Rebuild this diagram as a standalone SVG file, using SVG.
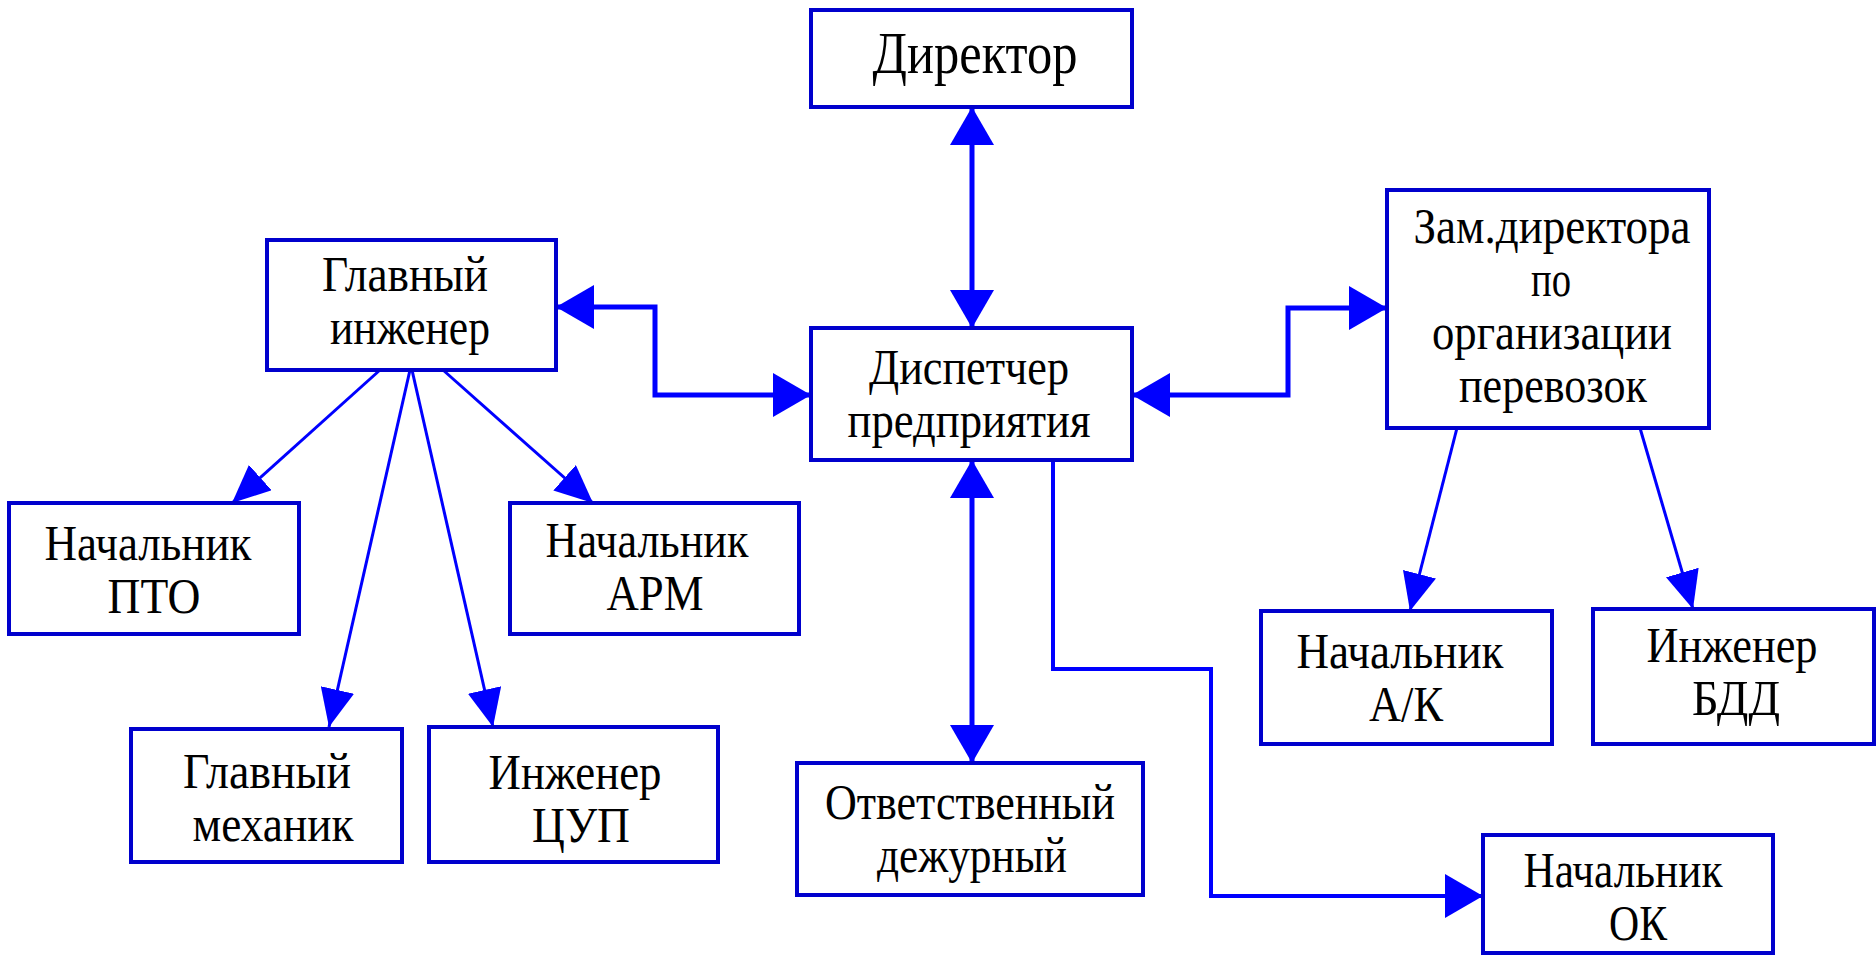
<svg xmlns="http://www.w3.org/2000/svg" width="1876" height="957" viewBox="0 0 1876 957">
<style>
.box{fill:#fff;stroke:#0000cd;stroke-width:4}
.t{font-family:'Liberation Serif','DejaVu Serif','Times New Roman',serif;font-size:50px;fill:#000;text-anchor:middle}
.big{font-size:60px}
.thick{fill:none;stroke:#0000ff;stroke-width:5}
.mid{fill:none;stroke:#0000ff;stroke-width:4}
.thin{fill:none;stroke:#0000ff;stroke-width:3}
</style>
<defs>
<marker id="ah" markerUnits="userSpaceOnUse" markerWidth="40" markerHeight="44" viewBox="0 0 40 44" refX="38" refY="22" orient="auto-start-reverse">
<path d="M0,0 L38,22 L0,44 z" fill="#0000ff"/>
</marker>
<marker id="as" markerUnits="userSpaceOnUse" markerWidth="40" markerHeight="34" viewBox="0 0 40 34" refX="38" refY="17" orient="auto">
<path d="M0,0 L38,17 L0,34 z" fill="#0000ff"/>
</marker>
</defs>
<rect width="1876" height="957" fill="#fff"/>
<g id="connectors">
<path class="thick" d="M972,107 V328" marker-start="url(#ah)" marker-end="url(#ah)"/>
<path class="thick" d="M556,307 H655 V395 H811" marker-start="url(#ah)" marker-end="url(#ah)"/>
<path class="thick" d="M1132,395 H1288 V308 H1387" marker-start="url(#ah)" marker-end="url(#ah)"/>
<path class="thick" d="M972,460 V763" marker-start="url(#ah)" marker-end="url(#ah)"/>
<path class="mid" d="M1053,460 V669 H1211 V896 H1483" marker-end="url(#ah)"/>
<path class="thin" d="M380,370 L232,503" marker-end="url(#as)"/>
<path class="thin" d="M410,370 L329,727" marker-end="url(#as)"/>
<path class="thin" d="M412,370 L493,727" marker-end="url(#as)"/>
<path class="thin" d="M443,370 L593,503" marker-end="url(#as)"/>
<path class="thin" d="M1457,428 L1410,611" marker-end="url(#as)"/>
<path class="thin" d="M1640,428 L1693,609" marker-end="url(#as)"/>
</g>
<g id="director">
<rect class="box" x="811" y="10" width="321" height="97"/>
<text class="t big" x="975" y="73" textLength="205" lengthAdjust="spacingAndGlyphs">Директор</text>
</g>
<g id="glavny-inzhener">
<rect class="box" x="267" y="240" width="289" height="130"/>
<text class="t" x="405" y="291" textLength="166" lengthAdjust="spacingAndGlyphs">Главный</text>
<text class="t" x="410" y="344" textLength="160" lengthAdjust="spacingAndGlyphs">инженер</text>
</g>
<g id="dispetcher">
<rect class="box" x="811" y="328" width="321" height="132"/>
<text class="t" x="969" y="384" textLength="200" lengthAdjust="spacingAndGlyphs">Диспетчер</text>
<text class="t" x="969" y="437" textLength="243" lengthAdjust="spacingAndGlyphs">предприятия</text>
</g>
<g id="zam-direktora">
<rect class="box" x="1387" y="190" width="322" height="238"/>
<text class="t" x="1552" y="243" textLength="277" lengthAdjust="spacingAndGlyphs">Зам.директора</text>
<text class="t" x="1551" y="296" textLength="40" lengthAdjust="spacingAndGlyphs">по</text>
<text class="t" x="1552" y="349" textLength="240" lengthAdjust="spacingAndGlyphs">организации</text>
<text class="t" x="1553" y="402" textLength="188" lengthAdjust="spacingAndGlyphs">перевозок</text>
</g>
<g id="nachalnik-pto">
<rect class="box" x="9" y="503" width="290" height="131"/>
<text class="t" x="148" y="560" textLength="207" lengthAdjust="spacingAndGlyphs">Начальник</text>
<text class="t" x="154" y="613" textLength="93" lengthAdjust="spacingAndGlyphs">ПТО</text>
</g>
<g id="nachalnik-arm">
<rect class="box" x="510" y="503" width="289" height="131"/>
<text class="t" x="647" y="557" textLength="203" lengthAdjust="spacingAndGlyphs">Начальник</text>
<text class="t" x="655" y="610" textLength="97" lengthAdjust="spacingAndGlyphs">АРМ</text>
</g>
<g id="glavny-mekhanik">
<rect class="box" x="131" y="729" width="271" height="133"/>
<text class="t" x="267" y="788" textLength="168" lengthAdjust="spacingAndGlyphs">Главный</text>
<text class="t" x="273" y="841" textLength="161" lengthAdjust="spacingAndGlyphs">механик</text>
</g>
<g id="inzhener-tsup">
<rect class="box" x="429" y="727" width="289" height="135"/>
<text class="t" x="575" y="789" textLength="173" lengthAdjust="spacingAndGlyphs">Инженер</text>
<text class="t" x="581" y="842" textLength="98" lengthAdjust="spacingAndGlyphs">ЦУП</text>
</g>
<g id="otvetstvenny">
<rect class="box" x="797" y="763" width="346" height="132"/>
<text class="t" x="970" y="819" textLength="290" lengthAdjust="spacingAndGlyphs">Ответственный</text>
<text class="t" x="972" y="872" textLength="190" lengthAdjust="spacingAndGlyphs">дежурный</text>
</g>
<g id="nachalnik-ak">
<rect class="box" x="1261" y="611" width="291" height="133"/>
<text class="t" x="1400" y="668" textLength="207" lengthAdjust="spacingAndGlyphs">Начальник</text>
<text class="t" x="1406" y="721" textLength="74" lengthAdjust="spacingAndGlyphs">А/К</text>
</g>
<g id="inzhener-bdd">
<rect class="box" x="1593" y="609" width="281" height="135"/>
<text class="t" x="1732" y="662" textLength="171" lengthAdjust="spacingAndGlyphs">Инженер</text>
<text class="t" x="1736" y="715" textLength="88" lengthAdjust="spacingAndGlyphs">БДД</text>
</g>
<g id="nachalnik-ok">
<rect class="box" x="1483" y="835" width="290" height="118"/>
<text class="t" x="1623" y="887" textLength="199" lengthAdjust="spacingAndGlyphs">Начальник</text>
<text class="t" x="1638" y="940" textLength="58" lengthAdjust="spacingAndGlyphs">ОК</text>
</g>
</svg>
